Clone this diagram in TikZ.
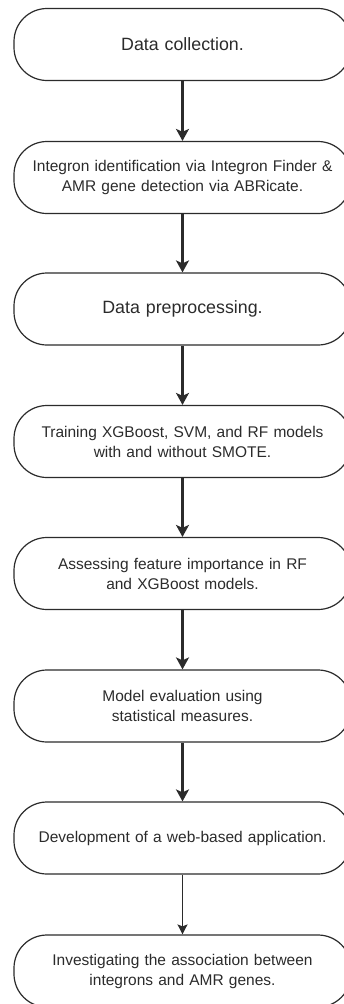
\documentclass[tikz,border=0pt]{standalone}
\usepackage{fontspec}
\setmainfont{Liberation Sans}
\usetikzlibrary{arrows.meta}
\definecolor{ink}{HTML}{2B2B2B}
\tikzset{
  stage/.style={draw=ink, line width=1.2pt, rounded corners=33pt,
    minimum width=337pt, minimum height=72pt, text width=315pt,
    align=center, text=ink, inner sep=0pt,
    font=\fontsize{15.5}{20}\selectfont},
  stagebig/.style={stage, font=\fontsize{17.8}{22}\selectfont},
  flow/.style={draw=ink, line width=2.2pt,
    -{Stealth[length=12pt,width=13pt,inset=3pt]}},
  flowthin/.style={draw=ink, line width=1.3pt,
    -{Stealth[length=10pt,width=10pt,inset=2pt]}}
}
\begin{document}
\begin{tikzpicture}[x=1pt,y=1pt]
  \useasboundingbox (0,0) rectangle (344,-1004);
  \clip (0,0) rectangle (344,-1004);
  \node[stagebig] (s1) at (182.5,-44.5) {Data collection.};
  \node[stage] (s2) at (182.5,-177.5) {Integron identification via Integron Finder \&\\AMR gene detection via ABRicate.};
  \node[stagebig] (s3) at (182.5,-309) {Data preprocessing.};
  \node[stage] (s4) at (182.5,-441.5) {Training XGBoost, SVM, and RF models\\with and without SMOTE.};
  \node[stage] (s5) at (182.5,-573.5) {Assessing feature importance in RF\\and XGBoost models.};
  \node[stage] (s6) at (182.5,-706) {Model evaluation using\\statistical measures.};
  \node[stage] (s7) at (182.5,-838) {Development of a web-based application.};
  \node[stage] (s8) at (182.5,-971) {Investigating the association between\\integrons and AMR genes.};
  \draw[flow] (s1) -- (s2);
  \draw[flow] (s2) -- (s3);
  \draw[flow] (s3) -- (s4);
  \draw[flow] (s4) -- (s5);
  \draw[flow] (s5) -- (s6);
  \draw[flow] (s6) -- (s7);
  \draw[flowthin] (s7) -- (s8);
\end{tikzpicture}
\end{document}
